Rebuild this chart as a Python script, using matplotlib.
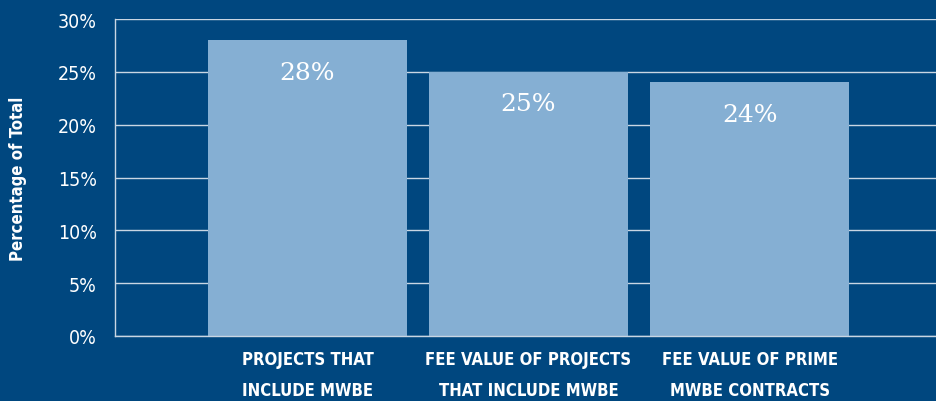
import matplotlib.pyplot as plt
import numpy as np

categories = ['PROJECTS THAT\nINCLUDE MWBE',
              'FEE VALUE OF PROJECTS\nTHAT INCLUDE MWBE',
              'FEE VALUE OF PRIME\nMWBE CONTRACTS']
values = [28, 25, 24]
yticks = [0, 5, 10, 15, 20, 25, 30]

bg = '#00477f'
bar_color = '#85afd3'
grid_color = '#c9d6e3'

fig = plt.figure(figsize=(9.37, 4.02), dpi=100, facecolor=bg)
ax = fig.add_axes([115/937, 1 - 337/402, 1 - 115/937, (337 - 20)/402])
ax.set_facecolor(bg)

x = np.arange(len(categories))
bars = ax.bar(x, values, width=0.9, color=bar_color, zorder=2)

ax.set_xlim(-0.871, 2.848)
ax.set_ylim(0, 30)
ax.set_yticks(yticks)
ax.set_yticklabels([f'{t}%' for t in yticks], color='white', fontsize=14,
                   fontstretch='condensed')
ax.set_xticks(x)
ax.set_xticklabels(categories, color='white', fontsize=12, fontweight='bold',
                   fontstretch='condensed', linespacing=1.95)
ax.tick_params(axis='both', length=0)
ax.tick_params(axis='y', pad=13)
ax.tick_params(axis='x', pad=10)

ax.grid(axis='y', color=grid_color, linewidth=1, zorder=1)
for s in ['top', 'right']:
    ax.spines[s].set_visible(False)
for s in ['left', 'bottom']:
    ax.spines[s].set_color(grid_color)
    ax.spines[s].set_linewidth(1)

ax.set_ylabel('Percentage of Total', color='white', fontsize=12, fontweight='bold',
              fontstretch='condensed', labelpad=22)

for bar, val in zip(bars, values):
    ax.annotate(f'{val}%', (bar.get_x() + bar.get_width()/2, bar.get_height()),
                xytext=(0, -23), textcoords='offset points', ha='center', va='center',
                color='white', fontsize=18, family='DejaVu Serif')

fig.savefig('out.png', dpi=100, facecolor=bg)
